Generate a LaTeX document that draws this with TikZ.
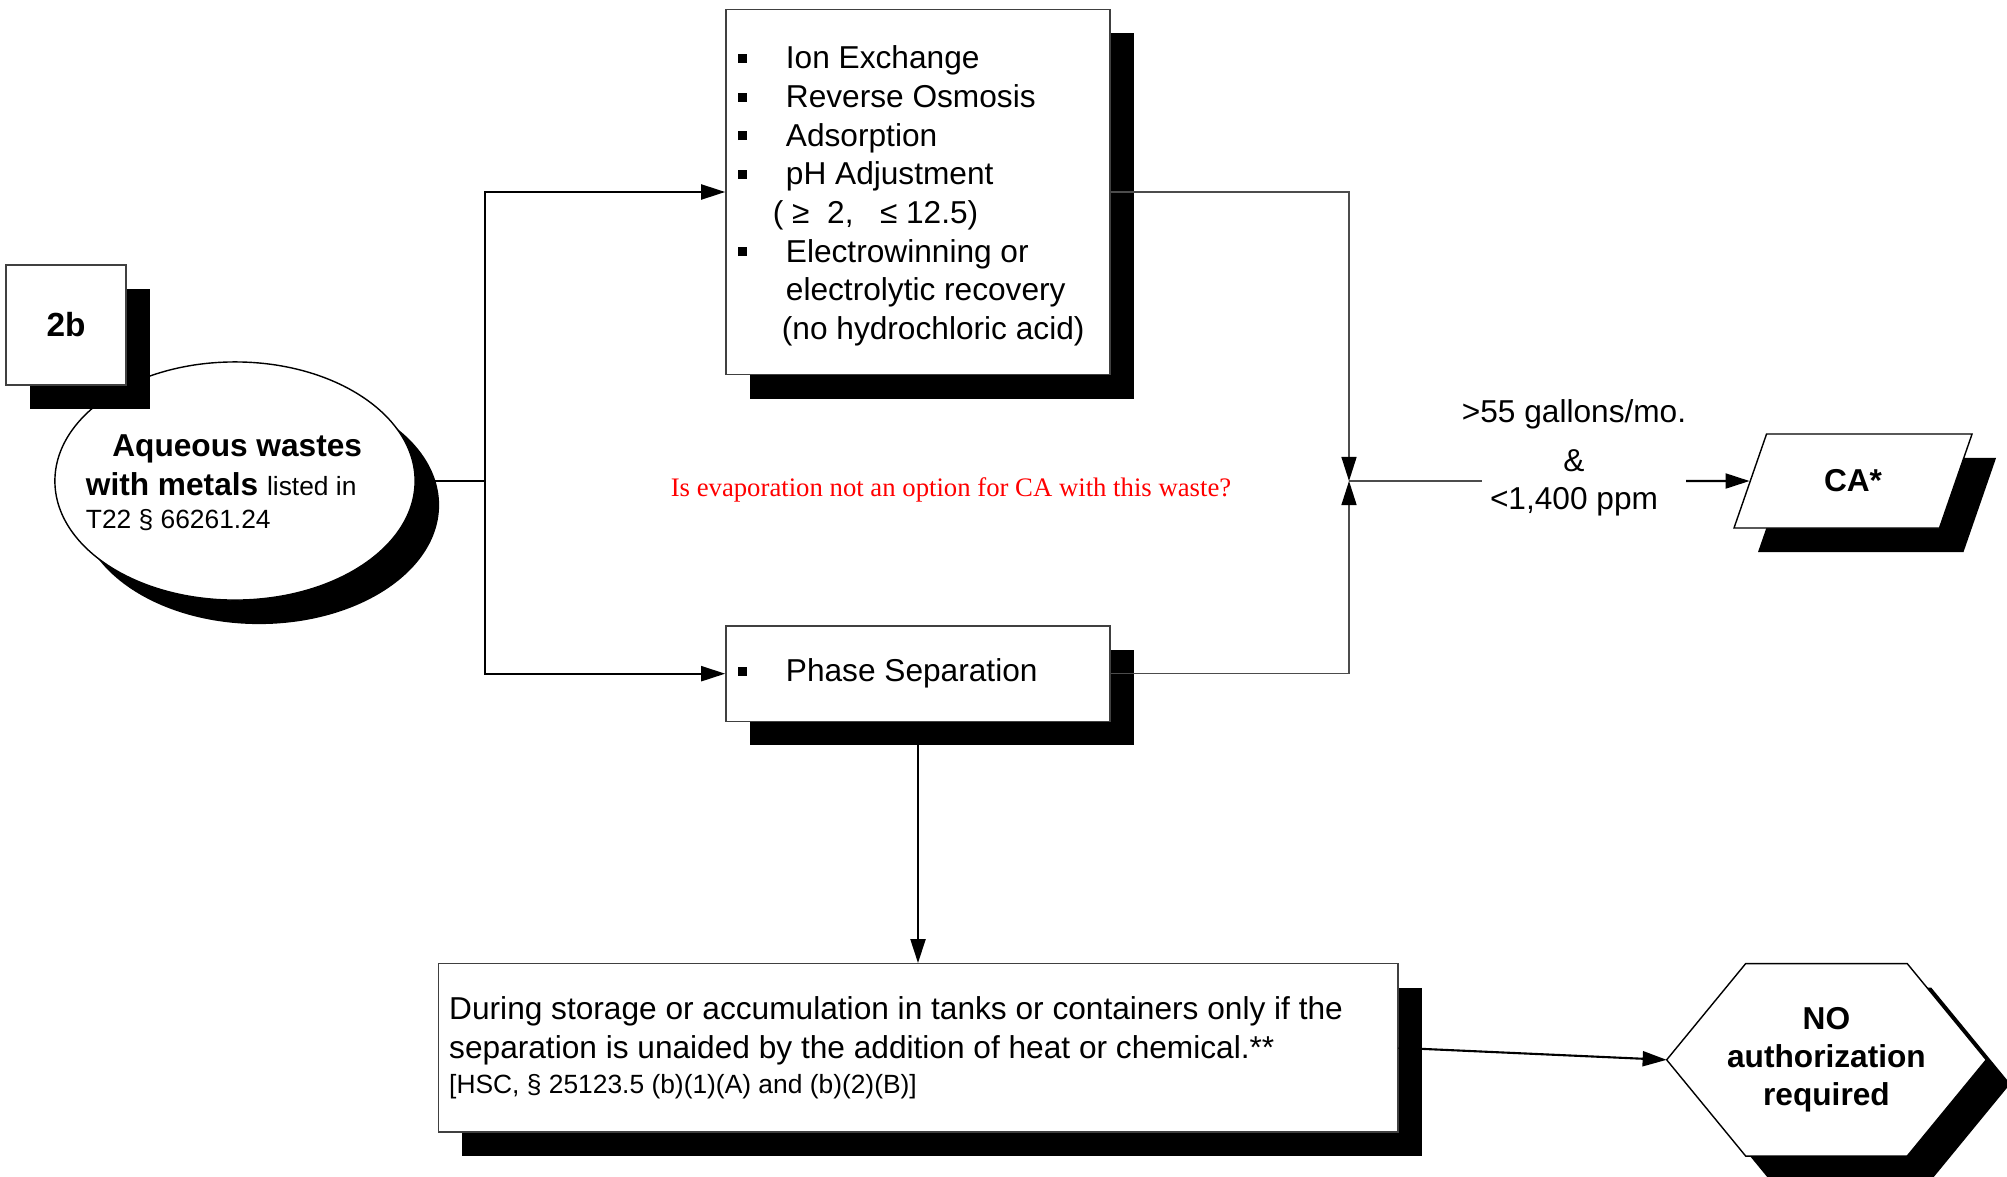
\documentclass[tikz,border=0pt]{standalone}
\usepackage{fontspec}
\setmainfont{Liberation Sans}
\newfontfamily\notefont{Liberation Serif}
\usetikzlibrary{arrows.meta,positioning,shapes.geometric,shadows,backgrounds}

\newcommand{\bul}{\makebox[0.48cm][l]{\raisebox{0.06cm}{\rule{0.09cm}{0.09cm}}}}

\begin{document}
\begin{tikzpicture}[x=0.01cm,y=-0.01cm,>={Triangle[length=0.24cm,width=0.15cm,color=black]},
                    every node/.style={font=\fontsize{9}{11}\selectfont},
                    shade node/.style={draw=black!75,line width=0.4pt,fill=white,
                      drop shadow={shadow xshift=0.24cm,shadow yshift=-0.24cm,opacity=1,fill=black}},
                    list node/.style={shade node,rectangle,minimum width=3.84cm,text width=3.6cm,
                      inner xsep=0.12cm,align=flush left},
                    wire/.style={line width=0.6pt},
                    thin wire/.style={line width=0.4pt,draw=black!70}]
  \useasboundingbox (0,0) rectangle (2007,1176);
  \node[shade node,ellipse,draw=black,minimum width=3.6cm,minimum height=2.38cm,inner sep=0pt] (2) at (235,481) {};
  \node[text width=2.76cm,align=flush left,inner sep=0pt] (2t) at (224,483)
    {\hfill\textbf{Aqueous wastes}\\ \textbf{with metals} {\fontsize{7.5}{9}\selectfont listed in}\\[-0.05cm]
     {\fontsize{7.5}{9}\selectfont T22 § 66261.24}};
  \node[shade node,rectangle,minimum size=1.2cm,font=\fontsize{9.5}{11}\selectfont\bfseries] (1) at (66,325) {2b};
  \node[list node,minimum height=3.65cm] (3) at (918,192)
    {\rule{0pt}{0.31cm}\bul Ion Exchange\\ \bul Reverse Osmosis\\ \bul Adsorption\\ \bul pH Adjustment\\
     \hspace*{0.35cm}( ≥~ 2, ~~≤ 12.5)\\ \bul Electrowinning or\\
     \hspace*{0.48cm}electrolytic recovery\\ \hspace*{0.44cm}(no hydrochloric acid)};
  \node[list node,minimum height=0.95cm,below=2.5cm of 3] (4) {\bul Phase Separation};
  \node[shade node,rectangle,minimum width=9.59cm,minimum height=1.68cm,text width=9.37cm,
        inner xsep=0.11cm,align=flush left,below=2.41cm of 4] (7)
    {During storage or accumulation in tanks or containers only if the\\
     separation is unaided by the addition of heat or chemical.**\\[-0.03cm]
     {\fontsize{7.5}{9}\selectfont [HSC, § 25123.5 (b)(1)(A) and (b)(2)(B)]}};
  \node[minimum width=3.18cm,minimum height=1.91cm,inner sep=0pt,align=center,
        font=\fontsize{9}{10.8}\selectfont\bfseries,right=2.68cm of 7,yshift=-0.12cm] (8)
    {NO\\ authorization\\ required};
  \begin{scope}[on background layer]
    \draw[shade node,draw=black] (8.west) -- ([xshift=0.79cm]8.north west) -- ([xshift=-0.79cm]8.north east)
      -- (8.east) -- ([xshift=-0.79cm]8.south east) -- ([xshift=0.79cm]8.south west) -- cycle;
  \end{scope}
  \node[align=center] (5) at (1574,458) {>55 gallons/mo.\\[0.1cm] \&\\ <1,400 ppm};
  \node[shade node,trapezium,trapezium left angle=64,trapezium right angle=116,trapezium stretches=true,
        draw=black,minimum width=2.38cm,minimum height=0.94cm,inner sep=0pt,
        font=\fontsize{9}{11}\selectfont\bfseries] (6) at (1853,481) {CA*};
  \node[font=\notefont\fontsize{7.6}{9}\selectfont,text=red] (9) at (951,490)
    {Is evaporation not an option for CA with this waste?};

  \coordinate (s) at (485,481);
  \coordinate (j) at (1349,481);
  \coordinate (gl) at (1482,481);
  \coordinate (gr) at (1686,481);
  \draw[wire] (2.east) -- (s);
  \draw[wire,->] (s) |- (3.west);
  \draw[wire,->] (s) |- (4.west);
  \draw[thin wire,->] (3.east) -| (j);
  \draw[thin wire,->] (4.east) -| (j);
  \draw[thin wire] (j) -- (gl);
  \draw[wire,->] (gr) -- (6.west);
  \draw[wire,->] (4.south) -- (7.north);
  \draw[wire,->] (7.east) -- (8.west);
\end{tikzpicture}
\end{document}
